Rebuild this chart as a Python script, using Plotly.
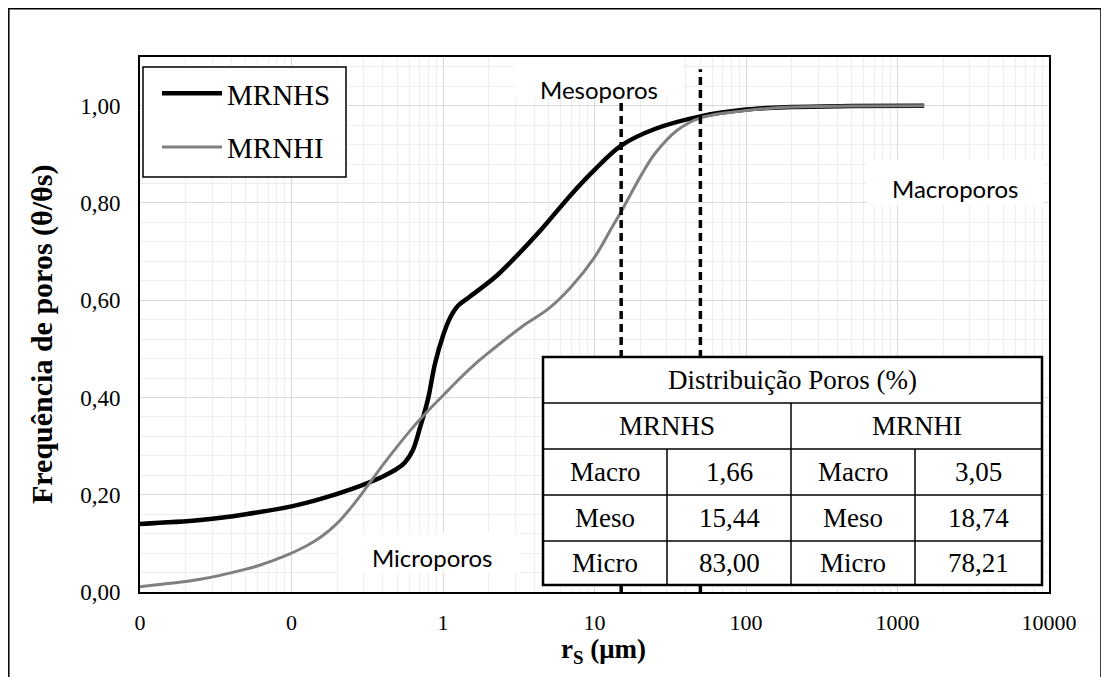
import plotly.graph_objects as go

# ---------------- data ----------------
radius_um = [0.01, 0.025, 0.05, 0.1, 0.158, 0.251, 0.398, 0.501, 0.562, 0.631, 0.705, 0.794, 0.886,
             1.0, 1.11, 1.26, 1.5, 2.2, 3.0, 4.5, 7.0, 10.0, 15.0, 25.0, 50.0, 100.0, 200.0, 500.0, 1500.0]
mrnhs = [0.140, 0.148, 0.160, 0.176, 0.192, 0.212, 0.237, 0.254, 0.267, 0.291, 0.338, 0.395, 0.470,
         0.527, 0.563, 0.589, 0.607, 0.647, 0.688, 0.747, 0.817, 0.868, 0.918, 0.952, 0.978, 0.992, 0.997, 0.999, 1.000]

radius_um_i = [0.01, 0.025, 0.05, 0.063, 0.079, 0.1, 0.126, 0.158, 0.2, 0.251, 0.316, 0.398, 0.501, 0.631,
               0.794, 1.0, 1.26, 1.58, 2.0, 2.5, 3.3, 5.0, 7.0, 10.0, 13.0, 15.0, 20.0, 25.0, 35.0, 50.0,
               100.0, 200.0, 500.0, 1500.0]
mrnhi = [0.011, 0.026, 0.047, 0.056, 0.067, 0.080, 0.095, 0.114, 0.141, 0.176, 0.217, 0.260, 0.300, 0.338,
         0.372, 0.404, 0.436, 0.465, 0.492, 0.516, 0.545, 0.583, 0.627, 0.688, 0.749, 0.782, 0.853, 0.901,
         0.949, 0.975, 0.990, 0.997, 0.999, 1.000]

limits_um = [15, 50]          # meso/macro class limits (dashed lines)
limit_top = 1.075

x_tickvals = [0.01, 0.1, 1, 10, 100, 1000, 10000]
x_ticktext = ["0", "0", "1", "10", "100", "1000", "10000"]

table_title = "Distribuição Poros (%)"
samples = ["MRNHS", "MRNHI"]
classes = ["Macro", "Meso", "Micro"]
mrnhs_pct = [1.66, 15.44, 83.00]
mrnhi_pct = [3.05, 18.74, 78.21]

zone_labels = ["Mesoporos", "Macroporos", "Microporos"]

# ---------------- helpers (reference pixel -> paper) ----------------
OFF = 8                       # page body margin
W, H = 1109 - OFF, 677 - OFF
L, R, T, B = 140, 1049, 57, 592   # plot area in reference pixels


def fx(px):
    return (px - L) / (R - L)


def fy(py):
    return (B - py) / (B - T)


SERIF = "Liberation Serif, Times New Roman, serif"
SANS = "Lato, Open Sans, sans-serif"

fig = go.Figure()

fig.add_trace(go.Scatter(x=radius_um, y=mrnhs, mode="lines", name="MRNHS",
                         line=dict(color="black", width=4.5, shape="spline", smoothing=1.0),
                         legendgroup="a"))
fig.add_trace(go.Scatter(x=radius_um_i, y=mrnhi, mode="lines", name="MRNHI",
                         line=dict(color="#808080", width=3, shape="spline", smoothing=1.0),
                         legendgroup="b"))
for lim in limits_um:
    fig.add_trace(go.Scatter(x=[lim, lim], y=[0, limit_top], mode="lines", showlegend=False,
                             line=dict(color="black", width=3.5, dash="8px,5px"), hoverinfo="skip"))

shapes = []
annotations = []

# outer chart frame
shapes.append(dict(type="rect", xref="paper", yref="paper", x0=fx(8.8), x1=fx(1101), y0=fy(700), y1=fy(8.8),
                   line=dict(color="black", width=1.5), fillcolor="rgba(0,0,0,0)", layer="below"))

# legend box (legend itself drawn by plotly on top)
shapes.append(dict(type="rect", xref="paper", yref="paper", x0=fx(143), x1=fx(346), y0=fy(177), y1=fy(67),
                   line=dict(color="black", width=1.5), fillcolor="white", layer="above"))

# white label boxes
boxes = [(515, 683, 58, 98), (867, 1043, 160, 205), (340, 520, 533, 573)]
centers = [(599, 89), (955, 188), (432, 557)]
for (x0, x1, y0, y1), (cx, cy), txt in zip(boxes, centers, zone_labels):
    shapes.append(dict(type="rect", xref="paper", yref="paper", x0=fx(x0), x1=fx(x1), y0=fy(y1), y1=fy(y0),
                       line=dict(width=0), fillcolor="white", layer="above"))
    annotations.append(dict(xref="paper", yref="paper", x=fx(cx), y=fy(cy), text=txt, showarrow=False,
                            font=dict(family=SANS, size=24, color="black"), xanchor="center", yanchor="middle"))

# table
tx = [543, 667, 791, 915, 1042]
ty = [357, 403, 449, 495, 541, 585]
shapes.append(dict(type="rect", xref="paper", yref="paper", x0=fx(tx[0]), x1=fx(tx[-1]), y0=fy(ty[-1]), y1=fy(ty[0]),
                   line=dict(color="black", width=2.5), fillcolor="white", layer="above"))


def hline(py, xa, xb):
    shapes.append(dict(type="line", xref="paper", yref="paper", x0=fx(xa), x1=fx(xb), y0=fy(py), y1=fy(py),
                       line=dict(color="black", width=1.5), layer="above"))


def vline(px, ya, yb):
    shapes.append(dict(type="line", xref="paper", yref="paper", x0=fx(px), x1=fx(px), y0=fy(ya), y1=fy(yb),
                       line=dict(color="black", width=1.5), layer="above"))


for py in ty[1:-1]:
    hline(py, tx[0], tx[-1])
vline(tx[2], ty[1], ty[-1])
vline(tx[1], ty[2], ty[-1])
vline(tx[3], ty[2], ty[-1])

TFONT = dict(family=SERIF, size=27, color="black")


def cell(txt, cx, cy):
    annotations.append(dict(xref="paper", yref="paper", x=fx(cx), y=fy(cy), text=txt, showarrow=False,
                            font=TFONT, xanchor="center", yanchor="middle"))


cell(table_title, (tx[0] + tx[-1]) / 2, (ty[0] + ty[1]) / 2)
cell(samples[0], (tx[0] + tx[2]) / 2, (ty[1] + ty[2]) / 2)
cell(samples[1], (tx[2] + tx[4]) / 2, (ty[1] + ty[2]) / 2)
for i, c in enumerate(classes):
    cy = (ty[2 + i] + ty[3 + i]) / 2
    cell(c, (tx[0] + tx[1]) / 2, cy)
    cell(f"{mrnhs_pct[i]:.2f}".replace(".", ","), (tx[1] + tx[2]) / 2, cy)
    cell(c, (tx[2] + tx[3]) / 2, cy)
    cell(f"{mrnhi_pct[i]:.2f}".replace(".", ","), (tx[3] + tx[4]) / 2, cy)

# axis titles
annotations.append(dict(xref="paper", yref="paper", x=fx(42), y=fy(335), text="<b>Frequência de poros (θ/θs)</b>",
                        textangle=-90, showarrow=False, font=dict(family=SERIF, size=30, color="black"),
                        xanchor="center", yanchor="middle"))
annotations.append(dict(xref="paper", yref="paper", x=fx(603), y=fy(651), text="<b>r<sub>S</sub> (μm)</b>",
                        showarrow=False, font=dict(family=SERIF, size=27, color="black"),
                        xanchor="center", yanchor="middle"))

fig.update_layout(
    width=W, height=H,
    margin=dict(l=L - OFF, r=W - (R - OFF), t=T - OFF, b=H - (B - OFF)),
    paper_bgcolor="white", plot_bgcolor="white",
    separators=",.",
    shapes=shapes, annotations=annotations,
    showlegend=True,
    legend=dict(x=fx(157), y=fy(68), xanchor="left", yanchor="top", bgcolor="rgba(0,0,0,0)",
                borderwidth=0, font=dict(family=SERIF, size=29, color="black"),
                itemwidth=60, tracegroupgap=13, traceorder="grouped"),
)

fig.update_xaxes(type="log", range=[-2, 4], tickvals=x_tickvals, ticktext=x_ticktext,
                 showgrid=True, gridcolor="#d9d9d9", gridwidth=1.2,
                 minor=dict(showgrid=True, gridcolor="#eeeeee", gridwidth=1, dtick="D1"),
                 showline=True, linecolor="black", linewidth=2, mirror=True,
                 ticks="", ticklabelstandoff=10,
                 tickfont=dict(family=SERIF, size=22, color="black"), zeroline=False)
fig.update_yaxes(range=[0, 1.1], dtick=0.2, tick0=0, tickformat=".2f",
                 showgrid=True, gridcolor="#d9d9d9", gridwidth=1.2,
                 minor=dict(showgrid=True, gridcolor="#eeeeee", gridwidth=1, dtick=0.04),
                 showline=True, linecolor="black", linewidth=2, mirror=True,
                 ticks="", ticklabelstandoff=13,
                 tickfont=dict(family=SERIF, size=23, color="black"), zeroline=False)

fig.write_html("out.html")
